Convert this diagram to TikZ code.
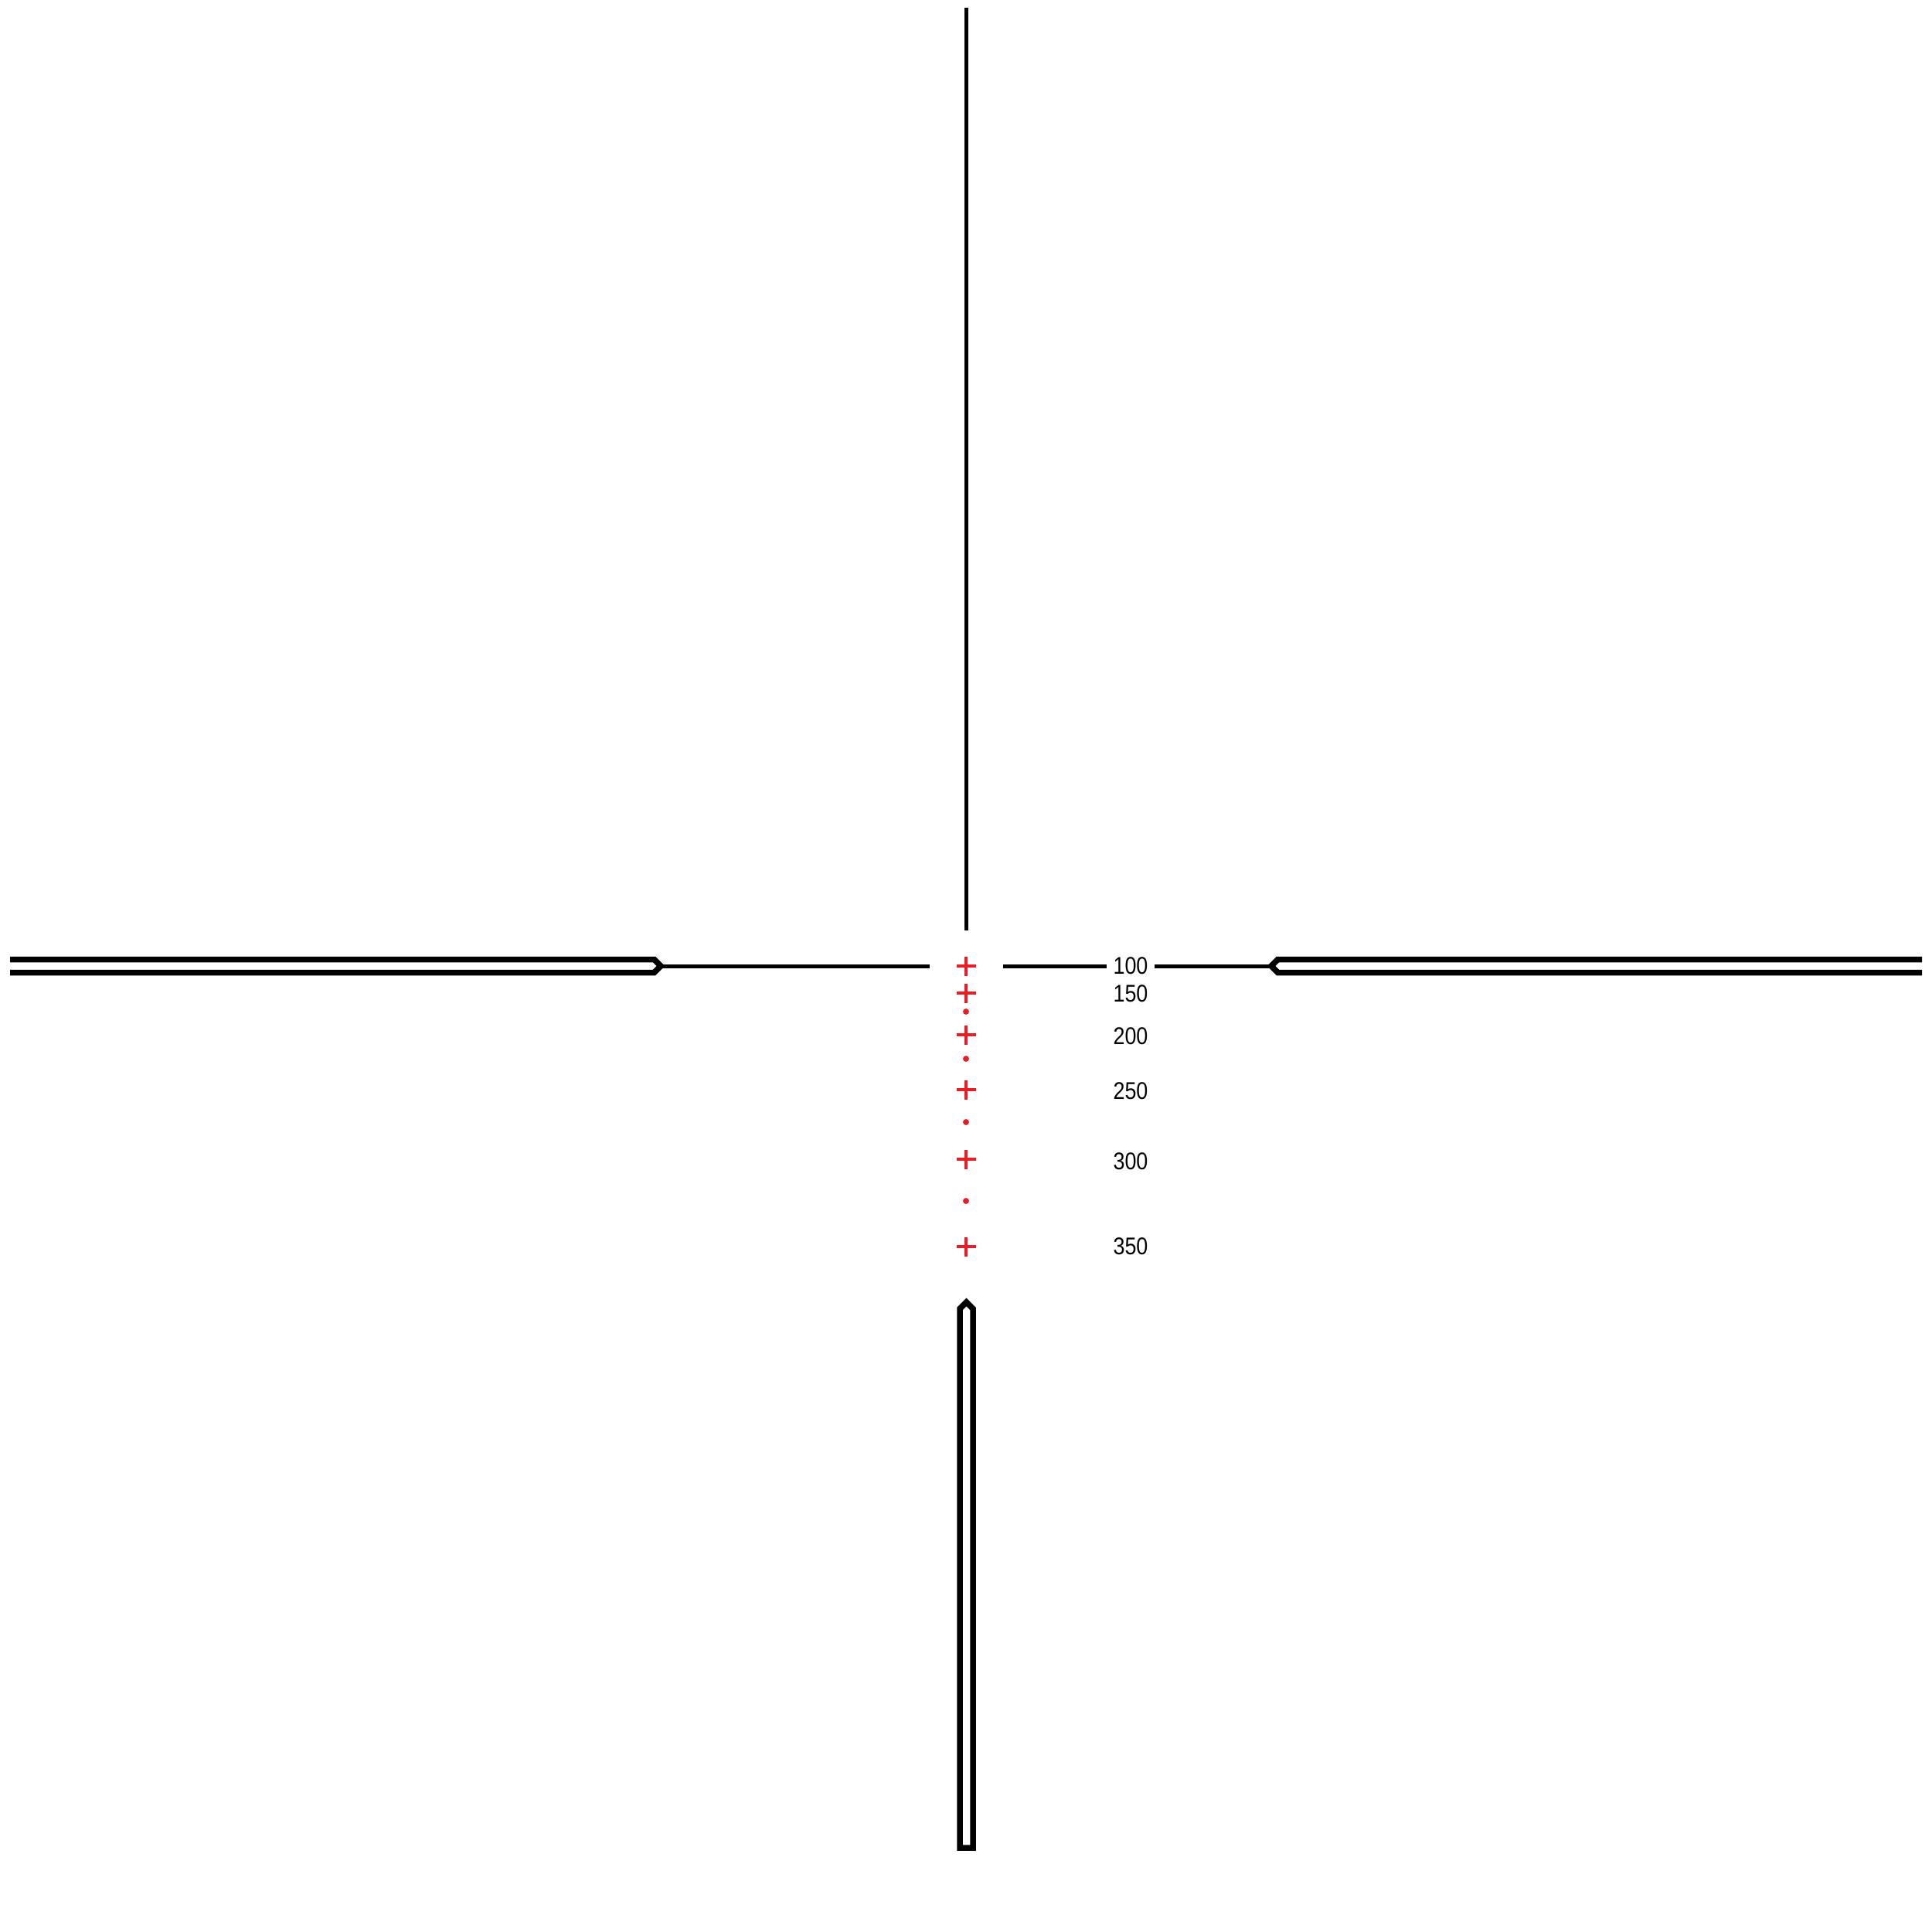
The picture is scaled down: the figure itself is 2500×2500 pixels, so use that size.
\documentclass[tikz,border=0pt]{standalone}
\usepackage{fontspec}
\newfontfamily\narrowfont[FakeStretch=0.86]{Liberation Sans}
\definecolor{reticlered}{HTML}{ED1C24}

\begin{document}
\begin{tikzpicture}[x=0.1mm, y=-0.1mm]
        % Setup the styles for the reticle
        \tikzset{wire style/.style={line width=0.5mm, draw=black},
                 post style/.style={line width=0.75mm, draw=black, miter limit=10},
                 mark style/.style={line width=0.37mm, draw=reticlered},
                 dot style/.style={fill=reticlered},
                 range style/.style={font=\narrowfont\fontsize{8.9}{10}\selectfont,
                                     inner sep=0.8mm}}
        \useasboundingbox (0,0) rectangle (2500,2500);

        % Ends of the wires
        \coordinate (top)     at (1250,10);
        \coordinate (topgap)  at (1250,1204);
        \coordinate (leftgap) at (1203,1250);
        \coordinate (rightgap) at (1298,1250);
        \coordinate (lefttip) at (855,1250);
        \coordinate (righttip) at (1645,1250);

        % Draw the range labels
        \node[range style] at (1463,1250) (r100) {100};
        \node[range style] at (1463,1286) (r150) {150};
        \node[range style] at (1463,1341) (r200) {200};
        \node[range style] at (1463,1412) (r250) {250};
        \node[range style] at (1463,1503) (r300) {300};
        \node[range style] at (1463,1613) (r350) {350};

        % Thin wires
        \draw[wire style] (top) -- (topgap);
        \draw[wire style] (lefttip) -- (leftgap);
        \draw[wire style] (rightgap) -- (r100.west);
        \draw[wire style] (r100.east) -- (righttip);

        % Thick posts
        \draw[post style] (13,1241.5) -- (846.5,1241.5) -- (lefttip)
                          -- (846.5,1258.5) -- (13,1258.5);
        \draw[post style] (2487,1241.5) -- (1653.5,1241.5) -- (righttip)
                          -- (1653.5,1258.5) -- (2487,1258.5);
        \draw[post style] (1242,1693.5) -- (1250.5,1685) -- (1259,1693.5)
                          -- (1259,2391) -- (1242,2391) -- cycle;

        % Holdover crosses and dots
        \foreach \y in {1250,1285,1339,1410,1500,1613}
            \draw[mark style] (1237.5,\y) -- (1262.5,\y) (1250,\y-12.5) -- (1250,\y+12.5);
        \foreach \y in {1309,1370,1452,1554}
            \fill[dot style] (1250,\y) circle (3.9);
\end{tikzpicture}
\end{document}
